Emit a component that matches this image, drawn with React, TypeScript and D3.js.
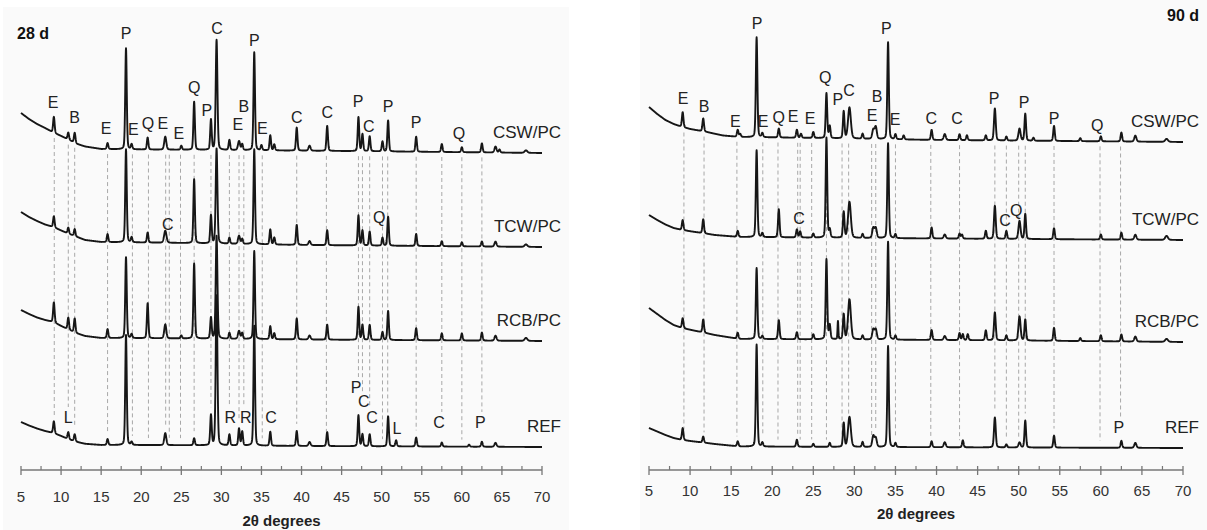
import React from 'react';
import * as d3 from 'd3';

const names = ['CSW/PC', 'TCW/PC', 'RCB/PC', 'REF'];
const xTicks = d3.range(5, 71, 5);
const xMinor = d3.range(7.5, 70, 5);

// background of each pattern, [2θ, counts]
const bg28Csw = [[5, 3570], [6, 3510], [7, 3460], [8, 3420], [9, 3375], [10, 3340], [11, 3300], [12, 3260], [13, 3235], [15, 3210], [20, 3205], [30, 3200], [45, 3190], [70, 3170]];
const bg28Tcw = [[5, 2580], [6, 2530], [7, 2490], [8, 2455], [9, 2430], [10, 2395], [11, 2360], [12, 2330], [13, 2300], [15, 2280], [25, 2270], [40, 2250], [70, 2230]];
const bg28Rcb = [[5, 1600], [6, 1560], [7, 1525], [8, 1500], [9, 1480], [10, 1440], [11, 1400], [12, 1365], [13, 1340], [15, 1320], [25, 1315], [40, 1305], [70, 1290]];
const bg28Ref = [[5, 480], [6, 445], [7, 415], [8, 390], [9, 370], [10, 340], [11, 305], [12, 280], [13, 262], [15, 250], [25, 248], [40, 240], [70, 230]];

const bg90Csw = [[5, 3630], [6, 3560], [7, 3500], [8, 3460], [9, 3430], [10, 3410], [12, 3380], [14, 3345], [16, 3330], [25, 3320], [40, 3300], [70, 3280]];
const bg90Tcw = [[5, 2550], [6, 2500], [7, 2455], [8, 2420], [9, 2400], [11, 2375], [13, 2350], [16, 2330], [30, 2320], [50, 2310], [70, 2300]];
const bg90Rcb = [[5, 1620], [6, 1560], [7, 1500], [8, 1450], [9, 1420], [11, 1385], [13, 1350], [16, 1310], [30, 1305], [50, 1295], [70, 1280]];
const bg90Ref = [[5, 420], [6, 385], [7, 350], [8, 320], [9, 300], [11, 280], [13, 260], [16, 235], [30, 230], [50, 225], [70, 220]];

// peaks [2θ, height, fwhm]
const pk28Csw = [[9.1, 160], [10.9, 70], [11.7, 100], [15.8, 60], [18.1, 1010], [18.8, 50], [20.8, 120], [23.0, 130, 0.3], [25.0, 40], [26.6, 480], [28.7, 300], [29.4, 1100, 0.25], [31.0, 100], [32.2, 90, 0.3], [32.6, 60], [34.1, 980], [35.0, 50], [36.1, 150], [36.6, 60], [39.4, 230], [41.0, 50, 0.3], [43.2, 250], [47.1, 340], [47.6, 170], [48.5, 150], [50.1, 100], [50.8, 310], [54.3, 150], [57.5, 80], [60.0, 50], [62.5, 90], [64.2, 60, 0.3], [64.7, 30], [68.0, 25, 0.4]];
const pk28Tcw = [[9.1, 110], [10.9, 60], [11.7, 70], [15.8, 80], [18.1, 930], [18.8, 50], [20.8, 100], [23.0, 120, 0.35], [26.6, 640], [28.7, 280], [29.4, 950, 0.25], [31.0, 60], [32.2, 80, 0.3], [32.6, 50], [34.1, 950], [36.1, 150], [36.6, 70], [39.4, 200], [41.0, 40, 0.3], [43.2, 150], [47.1, 300], [47.6, 150], [48.5, 140], [50.1, 80], [50.8, 290], [54.3, 120], [57.5, 50], [60.0, 40], [62.5, 50], [64.2, 50, 0.3], [68.0, 25, 0.4]];
const pk28Rcb = [[9.1, 200], [10.9, 120], [11.7, 140], [15.8, 90], [18.1, 810], [18.8, 40], [20.8, 350], [23.0, 140, 0.3], [25.0, 30], [26.6, 750], [28.7, 210], [29.4, 1030, 0.25], [31.0, 60], [32.2, 80, 0.3], [32.6, 60], [34.1, 880], [36.1, 130], [36.6, 60], [39.4, 210], [41.0, 40, 0.3], [43.2, 150], [47.1, 330], [47.6, 150], [48.5, 150], [50.1, 80], [50.8, 290], [54.3, 120], [57.5, 70], [60.0, 70], [62.5, 80], [64.2, 50, 0.3], [68.0, 30, 0.4]];
const pk28Ref = [[9.1, 120], [10.9, 70], [11.7, 70], [15.8, 60], [18.1, 1100], [18.8, 30], [23.0, 120, 0.3], [26.6, 70], [28.7, 300], [29.4, 1500, 0.25], [31.0, 110], [32.2, 170], [32.6, 140], [34.1, 1200], [36.1, 140], [39.4, 150], [41.0, 40, 0.3], [43.2, 140], [47.1, 310], [47.6, 120], [48.5, 120], [50.8, 300], [51.8, 60], [54.3, 90], [57.5, 40], [60.9, 20], [62.5, 50], [64.2, 40, 0.3]];

const pk90Csw = [[9.1, 150], [11.6, 130], [15.8, 70], [16.1, 30], [18.1, 1000], [18.8, 40], [20.8, 90], [23.0, 80], [23.5, 40], [25.0, 60], [26.6, 450], [27.0, 120], [28.7, 270], [29.4, 310, 0.4], [31.0, 50], [32.3, 90, 0.3], [32.6, 120, 0.3], [34.1, 970], [35.0, 50], [36.0, 40], [39.4, 100], [41.0, 60, 0.3], [42.8, 60], [43.7, 50], [46.0, 50], [47.1, 320, 0.25], [48.5, 40], [50.1, 120, 0.3], [50.8, 270], [51.8, 30], [54.3, 150], [57.5, 30], [60.0, 50], [62.5, 90], [64.2, 60, 0.3], [68.0, 30, 0.4]];
const pk90Tcw = [[9.1, 100], [11.6, 140], [15.8, 60], [18.1, 870], [18.8, 40], [20.8, 280], [23.0, 80], [23.4, 60], [25.0, 40], [26.6, 1000], [27.0, 80], [28.7, 260], [29.4, 360, 0.4], [31.0, 40], [32.3, 100, 0.3], [32.6, 100, 0.3], [34.1, 950], [35.0, 40], [39.4, 110], [41.0, 40, 0.3], [42.8, 50], [43.1, 40], [46.0, 80], [47.1, 330, 0.25], [48.5, 80], [50.1, 180, 0.3], [50.8, 250], [54.3, 110], [60.0, 50], [62.5, 70], [64.2, 50, 0.3], [68.0, 40, 0.4]];
const pk90Rcb = [[9.1, 100], [11.6, 130], [15.8, 60], [18.1, 710], [18.8, 30], [20.8, 190], [23.0, 70], [25.0, 50], [26.6, 800], [27.0, 140], [28.0, 180, 0.12], [28.7, 250], [29.4, 400, 0.4], [31.0, 40], [32.3, 100, 0.3], [32.6, 100, 0.3], [34.1, 980], [35.0, 40], [39.4, 100], [41.0, 40, 0.3], [42.8, 70], [43.2, 60], [43.8, 60], [46.0, 100], [47.1, 280, 0.25], [48.5, 50], [50.1, 240, 0.3], [50.8, 210], [54.3, 130], [57.5, 30], [60.0, 60], [62.5, 70], [64.2, 50, 0.3], [68.0, 30, 0.4]];
const pk90Ref = [[9.1, 120], [11.6, 60], [15.8, 50], [18.1, 1020], [18.8, 40], [23.0, 70], [25.0, 30], [27.0, 40], [28.7, 240], [29.4, 300, 0.4], [31.0, 50], [32.3, 110, 0.3], [32.6, 90, 0.3], [34.1, 1010], [35.0, 40], [39.4, 60], [41.0, 50, 0.3], [43.2, 70], [47.1, 300, 0.25], [48.5, 30], [50.1, 50, 0.3], [50.8, 270], [54.3, 120], [62.5, 70], [64.2, 50, 0.3]];

// phase tags [letter, 2θ, level]
const tag28 = [['E', 9.0, 3680], ['B', 11.7, 3530], ['E', 15.6, 3420], ['P', 18.1, 4370], ['E', 19.0, 3410], ['Q', 20.85, 3470], ['E', 22.7, 3470], ['E', 24.7, 3370], ['Q', 26.6, 3830], ['P', 28.2, 3600], ['C', 29.45, 4420], ['E', 32.05, 3460], ['B', 32.8, 3640], ['P', 34.1, 4300], ['E', 35.1, 3420], ['C', 39.4, 3530], ['C', 43.2, 3580], ['P', 47.05, 3690], ['C', 48.4, 3440], ['P', 50.8, 3640], ['P', 54.3, 3480], ['Q', 59.65, 3370], ['C', 23.3, 2460], ['Q', 49.7, 2530]];
const tag28Ref = [['L', 10.9, 530], ['R', 31.1, 530], ['R', 33.05, 530], ['C', 36.2, 530], ['P', 46.8, 830], ['C', 47.75, 685], ['C', 48.8, 530], ['L', 51.9, 420], ['C', 57.15, 480], ['P', 62.3, 480]];
const tag90 = [['E', 9.15, 3720], ['B', 11.7, 3640], ['E', 15.5, 3490], ['P', 18.15, 4470], ['E', 18.9, 3490], ['Q', 20.8, 3530], ['E', 22.55, 3540], ['E', 24.6, 3520], ['Q', 26.45, 3930], ['P', 28.0, 3710], ['C', 29.35, 3800], ['E', 32.15, 3550], ['B', 32.75, 3740], ['P', 33.9, 4420], ['E', 34.95, 3510], ['C', 39.35, 3520], ['C', 42.5, 3520], ['P', 47.0, 3720], ['P', 50.65, 3680], ['P', 54.3, 3520], ['Q', 59.55, 3450], ['C', 23.25, 2520], ['C', 48.35, 2500], ['Q', 49.7, 2600]];
const tag90Ref = [['P', 62.2, 430]];

// dashed guide lines, 2θ
const guide28 = [9.15, 10.9, 11.7, 15.8, 18.9, 20.9, 23.05, 23.5, 24.9, 26.6, 28.7, 31.0, 32.2, 32.8, 35.1, 39.4, 43.1, 47.1, 47.6, 48.5, 50.1, 50.75, 54.3, 57.5, 60.0, 62.5];
const guide90 = [9.25, 11.7, 15.7, 18.85, 20.7, 23.1, 23.4, 24.8, 26.6, 28.5, 29.3, 32.1, 32.6, 35.0, 39.3, 42.8, 47.1, 48.5, 50.0, 50.8, 54.3, 59.9, 62.4];

const FONT = '"Liberation Sans", Arial, sans-serif';

function pattern(bg, peaks) {
  const base = d3.scaleLinear().domain(bg.map(d => d[0])).range(bg.map(d => d[1]));
  const f = (t) => {
    let v = base(t);
    for (const p of peaks) {
      const u = (t - p[0]) / ((p[2] || 0.22) / 2);
      if (u > -80 && u < 80) v += p[1] * (0.25 / (1 + u * u) + 0.75 * Math.exp(-0.693 * u * u));
    }
    return v;
  };
  return { base, f };
}

const steps = d3.range(0, 3251).map(i => 5 + i * 0.02);

function Panel({ x0, x1, bgs, peaks, tags, refTags, guides, title, titleX, titleY, tickY, axisTitleY, nameDx }) {
  const x = d3.scaleLinear().domain([5, 70]).range([x0, x1]);
  const y = d3.scaleLinear().domain([0, 4600]).range([470, 10]);
  const curves = bgs.map((bg, i) => pattern(bg, peaks[i]));
  const line = d3.line().x(d => x(d[0])).y(d => y(d[1]));

  return (
    <g>
      {guides.map((g, i) => {
        const top = y(curves[0].base(g)) + 5;
        let bottom = y(curves[3].f(g)) - 7;
        refTags.forEach(t => {
          if (Math.abs(t[1] - g) < 0.6) bottom = Math.min(bottom, y(t[2]) - 10);
        });
        return <line key={'g' + i} x1={x(g)} x2={x(g)} y1={top} y2={bottom}
          stroke="#a8a8a8" strokeWidth={1} strokeDasharray="4,3" />;
      })}
      {curves.map((c, i) => (
        <path key={'c' + i} d={line(steps.map(t => [t, c.f(t)]))}
          fill="none" stroke="#161616" strokeWidth={1.9} strokeLinejoin="round" />
      ))}
      {curves.map((c, i) => (
        <text key={'n' + i} x={x1 + nameDx} y={y(c.base(70)) - 21} dy="0.35em"
          textAnchor="end" fontSize={17} fill="#222">{names[i]}</text>
      ))}
      {tags.concat(refTags).map((t, i) => (
        <text key={'t' + i} x={x(t[1])} y={y(t[2])} dy="0.35em"
          textAnchor="middle" fontSize={16} fill="#222">{t[0]}</text>
      ))}
      <line x1={x0} x2={x1} y1={470} y2={470} stroke="#777" strokeWidth={1.3} />
      {xTicks.map(t => (
        <g key={'x' + t}>
          <line x1={x(t)} x2={x(t)} y1={466} y2={475} stroke="#777" strokeWidth={1.3} />
          <text x={x(t)} y={tickY} dy="0.35em" textAnchor="middle" fontSize={15} fill="#333">{t}</text>
        </g>
      ))}
      {xMinor.map(t => (
        <line key={'m' + t} x1={x(t)} x2={x(t)} y1={466} y2={470} stroke="#777" strokeWidth={1.2} />
      ))}
      <text x={(x0 + x1) / 2} y={axisTitleY} dy="0.35em" textAnchor="middle"
        fontSize={15} fontWeight="bold" fill="#222">2θ degrees</text>
      <text x={titleX} y={titleY} textAnchor={titleX < 600 ? 'start' : 'end'}
        fontSize={16} fontWeight="bold" fill="#111">{title}</text>
    </g>
  );
}

export default function App() {
  return (
    <svg width={1207} height={530} style={{ position: 'absolute', left: 0, top: 0, background: '#fff' }}
      fontFamily={FONT}>
      <rect x={3} y={7} width={566} height={523} fill="#fafafa" />
      <rect x={640} y={0} width={567} height={530} fill="#fafafa" />
      <Panel x0={21} x1={542} bgs={[bg28Csw, bg28Tcw, bg28Rcb, bg28Ref]}
        peaks={[pk28Csw, pk28Tcw, pk28Rcb, pk28Ref]} tags={tag28} refTags={tag28Ref}
        guides={guide28} title="28 d" titleX={17} titleY={39} tickY={497} axisTitleY={521} nameDx={19} />
      <Panel x0={649} x1={1183} bgs={[bg90Csw, bg90Tcw, bg90Rcb, bg90Ref]}
        peaks={[pk90Csw, pk90Tcw, pk90Rcb, pk90Ref]} tags={tag90} refTags={tag90Ref}
        guides={guide90} title="90 d" titleX={1199} titleY={21} tickY={491} axisTitleY={514} nameDx={16} />
    </svg>
  );
}
